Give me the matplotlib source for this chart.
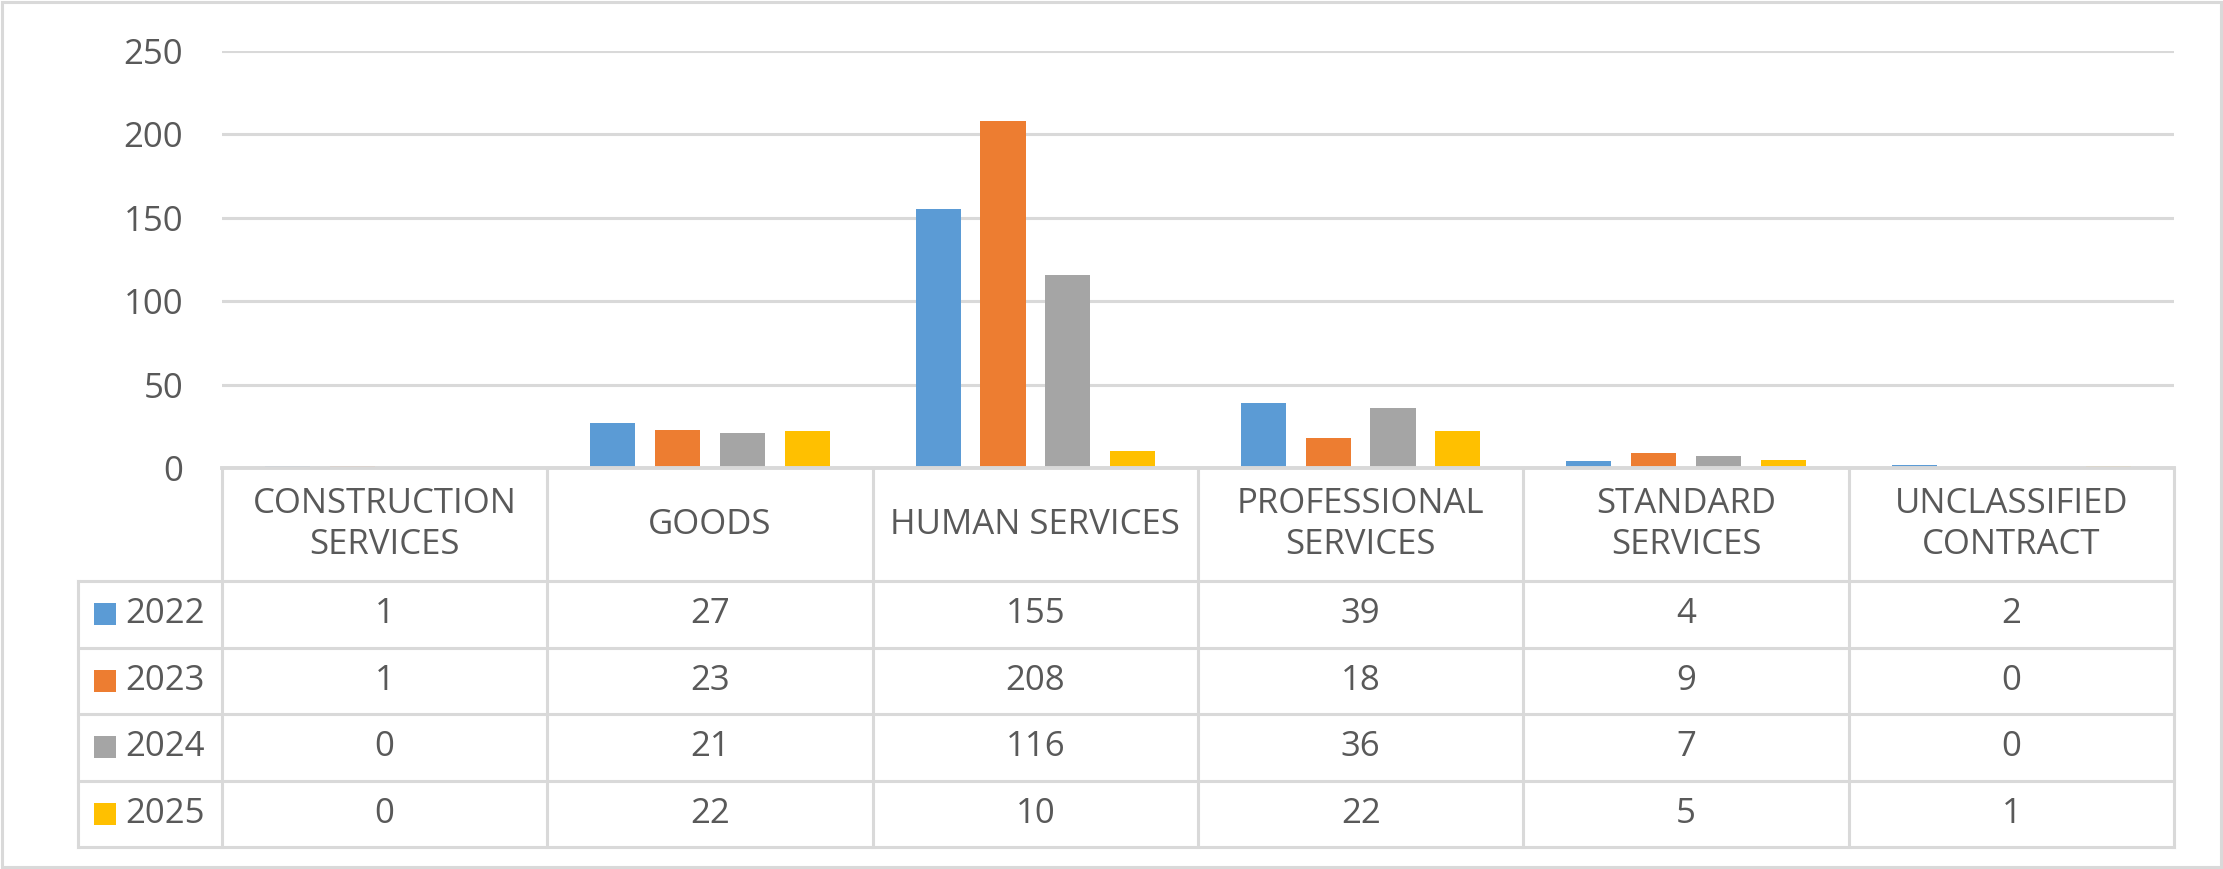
import matplotlib
matplotlib.use('Agg')
import matplotlib.pyplot as plt
from matplotlib import transforms
from matplotlib.lines import Line2D
from matplotlib.patches import Rectangle

categories = ["CONSTRUCTION\nSERVICES", "GOODS", "HUMAN SERVICES",
              "PROFESSIONAL\nSERVICES", "STANDARD\nSERVICES", "UNCLASSIFIED\nCONTRACT"]
years = ["2022", "2023", "2024", "2025"]
v2022 = [1, 27, 155, 39, 4, 2]
v2023 = [1, 23, 208, 18, 9, 0]
v2024 = [0, 21, 116, 36, 7, 0]
v2025 = [0, 22, 10, 22, 5, 1]
series = [v2022, v2023, v2024, v2025]
colors = ["#5B9BD5", "#ED7D31", "#A5A5A5", "#FFC000"]
yticks = [0, 50, 100, 150, 200, 250]

TXT = '#595959'
GRID = '#D9D9D9'
FS = 25

W, H = 2223, 869
plt.rcParams['font.family'] = ['Open Sans', 'DejaVu Sans']
fig = plt.figure(figsize=(W / 100, H / 100), dpi=100)

def fy(py):
    return 1 - py / H

ax_l, ax_r, ax_t, ax_b = 222, 2174, 51, 468
ax = fig.add_axes([ax_l / W, fy(ax_b), (ax_r - ax_l) / W, (ax_b - ax_t) / H])
n = len(categories)
bw = 0.139
step = 0.199
for k, (vals, c) in enumerate(zip(series, colors)):
    xs = [i + (k - 1.5) * step for i in range(n)]
    ax.bar(xs, vals, width=bw, color=c, zorder=3)
ax.set_xlim(-0.5, n - 0.5)
ax.set_ylim(0, 250)
ax.set_yticks(yticks)
ax.yaxis.grid(True, color=GRID, lw=2.2)
ax.set_axisbelow(True)
for s in ax.spines.values():
    s.set_visible(False)
ax.tick_params(axis='y', length=0, pad=28, labelsize=FS, labelcolor=TXT)
ax.set_xticks([])

tr = transforms.blended_transform_factory(ax.transData, fig.transFigure)
colw = (ax_r - ax_l) / n
x_leg = -0.5 - (ax_l - 78) / colw

hdr_bot = 581
table_bot = 847
row_h = (table_bot - hdr_bot) / len(years)
rows_y = [hdr_bot + r * row_h for r in range(len(years) + 1)]

def hline(x0, x1, py, lw=2.2, z=1):
    ax.add_line(Line2D([x0, x1], [fy(py), fy(py)], transform=tr, color=GRID,
                       lw=lw, clip_on=False, zorder=z))

def vline(x, py0, py1):
    ax.add_line(Line2D([x, x], [fy(py0), fy(py1)], transform=tr, color=GRID,
                       lw=2.2, clip_on=False, zorder=1))

hline(-0.5, n - 0.5, ax_b, lw=2.8, z=4)
for py in rows_y:
    hline(x_leg, n - 0.5, py)
for j in range(n + 1):
    vline(-0.5 + j, ax_b, table_bot)
vline(x_leg, hdr_bot, table_bot)

hdr_c = (ax_b + hdr_bot) / 2
for i, cat in enumerate(categories):
    ax.text(i, fy(hdr_c), cat, transform=tr, ha='center', va='center',
            fontsize=FS, color=TXT, linespacing=1.3)

for r, (yr, vals, c) in enumerate(zip(years, series, colors)):
    cy = (rows_y[r] + rows_y[r + 1]) / 2
    for i, v in enumerate(vals):
        ax.text(i, fy(cy), str(v), transform=tr, ha='center', va='center',
                fontsize=FS, color=TXT)
    fig.add_artist(Rectangle((94 / W, fy(cy + 11)), 22 / W, 22 / H,
                             transform=fig.transFigure, color=c, lw=0))
    fig.text(125 / W, fy(cy), yr, ha='left', va='center', fontsize=FS, color=TXT)

fig.add_artist(Rectangle((2 / W, 2 / H), (W - 4) / W, (H - 4) / H,
                         transform=fig.transFigure, fill=False,
                         edgecolor=GRID, lw=2.2))

fig.savefig('out.png', dpi=100)
